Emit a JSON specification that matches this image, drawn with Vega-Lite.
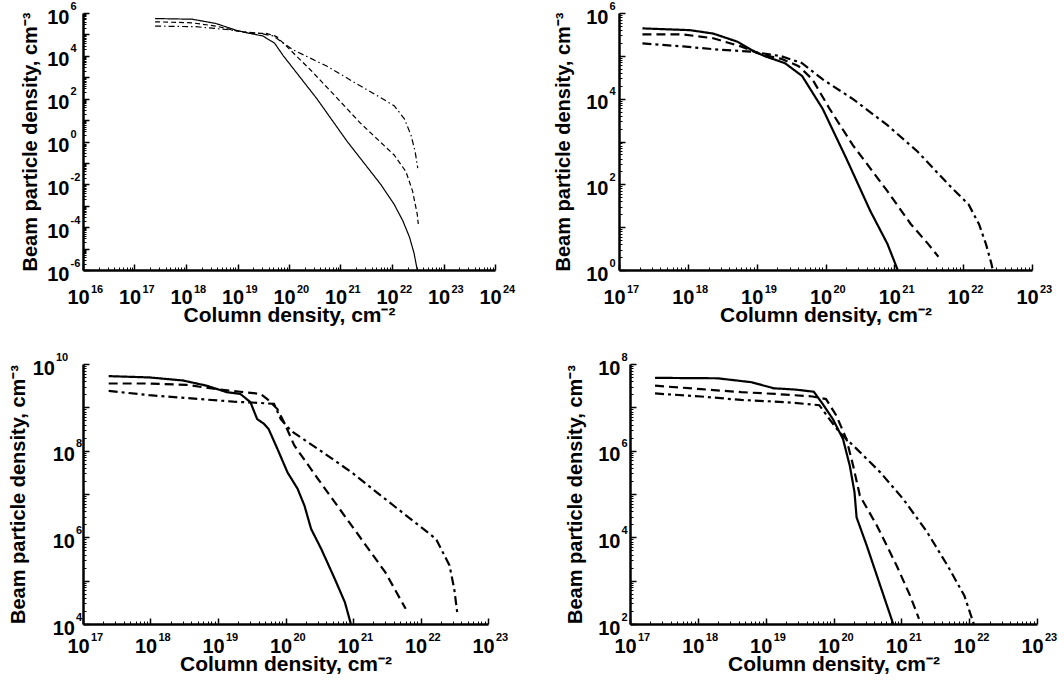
{
  "$schema": "https://vega.github.io/schema/vega-lite/v6.json",
  "background": "white",
  "padding": {"left": 8, "top": 0, "right": 0, "bottom": 0},
  "config": {
    "view": {"stroke": null},
    "font": "Liberation Sans",
    "axis": {
      "grid": false,
      "domainColor": "black",
      "domainWidth": 2.5,
      "labelFont": "Liberation Sans",
      "labelFontWeight": "bold",
      "labelFontSize": 20,
      "labelColor": "black",
      "labelFlush": false,
      "labelOverlap": false,
      "titleFont": "Liberation Sans",
      "titleFontWeight": "bold",
      "titleFontSize": 21,
      "titleColor": "black"
    },
    "axisX": {"titleFontSize": 21},
    "axisY": {"titleFontSize": 20}
  },
  "datasets": {
    "p1": [
      {"s": "solid", "x": 2.51e17, "y": 5.50e5}, {"s": "solid", "x": 1.32e18, "y": 5.13e5}, {"s": "solid", "x": 3.80e18, "y": 3.24e5}, {"s": "solid", "x": 9.33e18, "y": 1.58e5}, {"s": "solid", "x": 1.70e19, "y": 1.12e5}, {"s": "solid", "x": 3.09e19, "y": 8.51e4}, {"s": "solid", "x": 5.25e19, "y": 3.89e4}, {"s": "solid", "x": 7.76e19, "y": 1.0e4}, {"s": "solid", "x": 3.47e20, "y": 100}, {"s": "solid", "x": 1.35e21, "y": 1}, {"s": "solid", "x": 6.03e21, "y": 0.01}, {"s": "solid", "x": 1.10e22, "y": 1.17e-3}, {"s": "solid", "x": 1.62e22, "y": 2.0e-4}, {"s": "solid", "x": 2.19e22, "y": 3.39e-5}, {"s": "solid", "x": 2.69e22, "y": 5.89e-6}, {"s": "solid", "x": 3.09e22, "y": 1e-6},
      {"s": "dashed", "x": 2.51e17, "y": 3.89e5}, {"s": "dashed", "x": 1.32e18, "y": 3.47e5}, {"s": "dashed", "x": 3.80e18, "y": 2.45e5}, {"s": "dashed", "x": 1.10e19, "y": 1.35e5}, {"s": "dashed", "x": 2.0e19, "y": 1.12e5}, {"s": "dashed", "x": 3.63e19, "y": 1.12e5}, {"s": "dashed", "x": 5.75e19, "y": 7.94e4}, {"s": "dashed", "x": 1.05e20, "y": 1.91e4}, {"s": "dashed", "x": 2.57e20, "y": 2.29e3}, {"s": "dashed", "x": 7.0e20, "y": 180}, {"s": "dashed", "x": 2.45e21, "y": 7.08}, {"s": "dashed", "x": 1.10e22, "y": 0.234}, {"s": "dashed", "x": 1.86e22, "y": 0.0398}, {"s": "dashed", "x": 2.51e22, "y": 4.79e-3}, {"s": "dashed", "x": 3.09e22, "y": 4.07e-4}, {"s": "dashed", "x": 3.24e22, "y": 1.41e-4},
      {"s": "dashdot", "x": 2.51e17, "y": 2.45e5}, {"s": "dashdot", "x": 1.55e18, "y": 2.29e5}, {"s": "dashdot", "x": 6.03e18, "y": 1.70e5}, {"s": "dashdot", "x": 1.26e19, "y": 1.35e5}, {"s": "dashdot", "x": 2.69e19, "y": 1.12e5}, {"s": "dashdot", "x": 4.90e19, "y": 8.51e4}, {"s": "dashdot", "x": 1.20e20, "y": 1.91e4}, {"s": "dashdot", "x": 5.50e20, "y": 3.24e3}, {"s": "dashdot", "x": 2.45e21, "y": 389}, {"s": "dashdot", "x": 5.25e21, "y": 135}, {"s": "dashdot", "x": 1.10e22, "y": 46.8}, {"s": "dashdot", "x": 1.74e22, "y": 11.5}, {"s": "dashdot", "x": 2.34e22, "y": 1.95}, {"s": "dashdot", "x": 2.82e22, "y": 0.331}, {"s": "dashdot", "x": 3.16e22, "y": 0.0575}
    ],
    "p2": [
      {"s": "solid", "x": 2.19e17, "y": 4.37e5}, {"s": "solid", "x": 1.07e18, "y": 3.98e5}, {"s": "solid", "x": 2.34e18, "y": 3.31e5}, {"s": "solid", "x": 5.25e18, "y": 2.14e5}, {"s": "solid", "x": 8.32e18, "y": 1.38e5}, {"s": "solid", "x": 1.32e19, "y": 9.77e4}, {"s": "solid", "x": 2.57e19, "y": 6.76e4}, {"s": "solid", "x": 4.57e19, "y": 3.39e4}, {"s": "solid", "x": 9.12e19, "y": 5.75e3}, {"s": "solid", "x": 2.0e20, "y": 407}, {"s": "solid", "x": 4.47e20, "y": 24.0}, {"s": "solid", "x": 7.94e20, "y": 4.07}, {"s": "solid", "x": 1.12e21, "y": 1},
      {"s": "dashed", "x": 2.19e17, "y": 3.16e5}, {"s": "dashed", "x": 8.51e17, "y": 3.16e5}, {"s": "dashed", "x": 2.34e18, "y": 2.57e5}, {"s": "dashed", "x": 5.89e18, "y": 1.66e5}, {"s": "dashed", "x": 1.17e19, "y": 1.07e5}, {"s": "dashed", "x": 2.29e19, "y": 8.51e4}, {"s": "dashed", "x": 4.07e19, "y": 5.75e4}, {"s": "dashed", "x": 6.46e19, "y": 2.82e4}, {"s": "dashed", "x": 1.15e20, "y": 5.75e3}, {"s": "dashed", "x": 2.51e20, "y": 813}, {"s": "dashed", "x": 7.94e20, "y": 69.2}, {"s": "dashed", "x": 1.74e21, "y": 11.7}, {"s": "dashed", "x": 3.09e21, "y": 4.07}, {"s": "dashed", "x": 4.37e21, "y": 2.04},
      {"s": "dashdot", "x": 2.19e17, "y": 1.95e5}, {"s": "dashdot", "x": 8.51e17, "y": 1.66e5}, {"s": "dashdot", "x": 2.95e18, "y": 1.38e5}, {"s": "dashdot", "x": 8.32e18, "y": 1.26e5}, {"s": "dashdot", "x": 2.29e19, "y": 9.77e4}, {"s": "dashdot", "x": 4.57e19, "y": 6.76e4}, {"s": "dashdot", "x": 9.12e19, "y": 2.82e4}, {"s": "dashdot", "x": 2.51e20, "y": 9.77e3}, {"s": "dashdot", "x": 7.94e20, "y": 2.40e3}, {"s": "dashdot", "x": 2.19e21, "y": 575}, {"s": "dashdot", "x": 6.17e21, "y": 97.7}, {"s": "dashdot", "x": 1.20e22, "y": 33.9}, {"s": "dashdot", "x": 1.70e22, "y": 11.7}, {"s": "dashdot", "x": 2.14e22, "y": 4.07}, {"s": "dashdot", "x": 2.57e22, "y": 1.41}, {"s": "dashdot", "x": 2.69e22, "y": 1}
    ],
    "p3": [
      {"s": "solid", "x": 2.40e17, "y": 5.25e9}, {"s": "solid", "x": 9.55e17, "y": 4.90e9}, {"s": "solid", "x": 3.02e18, "y": 4.17e9}, {"s": "solid", "x": 6.76e18, "y": 3.16e9}, {"s": "solid", "x": 1.35e19, "y": 2.24e9}, {"s": "solid", "x": 2.14e19, "y": 2.04e9}, {"s": "solid", "x": 3.02e19, "y": 1.32e9}, {"s": "solid", "x": 3.80e19, "y": 5.37e8}, {"s": "solid", "x": 4.79e19, "y": 4.17e8}, {"s": "solid", "x": 5.62e19, "y": 3.16e8}, {"s": "solid", "x": 7.59e19, "y": 1.10e8}, {"s": "solid", "x": 1.07e20, "y": 3.16e7}, {"s": "solid", "x": 1.51e20, "y": 1.32e7}, {"s": "solid", "x": 1.91e20, "y": 5.37e6}, {"s": "solid", "x": 2.40e20, "y": 1.55e6}, {"s": "solid", "x": 3.39e20, "y": 5.37e5}, {"s": "solid", "x": 5.37e20, "y": 1.10e5}, {"s": "solid", "x": 7.59e20, "y": 3.16e4}, {"s": "solid", "x": 9.3e20, "y": 1e4},
      {"s": "dashed", "x": 2.40e17, "y": 3.55e9}, {"s": "dashed", "x": 9.55e17, "y": 3.55e9}, {"s": "dashed", "x": 3.39e18, "y": 3.31e9}, {"s": "dashed", "x": 9.55e18, "y": 2.63e9}, {"s": "dashed", "x": 2.14e19, "y": 2.29e9}, {"s": "dashed", "x": 4.27e19, "y": 2.04e9}, {"s": "dashed", "x": 5.37e19, "y": 1.55e9}, {"s": "dashed", "x": 7.59e19, "y": 9.12e8}, {"s": "dashed", "x": 9.55e19, "y": 4.47e8}, {"s": "dashed", "x": 1.35e20, "y": 1.32e8}, {"s": "dashed", "x": 3.02e20, "y": 2.24e7}, {"s": "dashed", "x": 9.55e20, "y": 1.86e6}, {"s": "dashed", "x": 3.02e21, "y": 1.55e5}, {"s": "dashed", "x": 6.03e21, "y": 2.24e4},
      {"s": "dashdot", "x": 2.40e17, "y": 2.40e9}, {"s": "dashdot", "x": 9.55e17, "y": 1.91e9}, {"s": "dashdot", "x": 5.37e18, "y": 1.55e9}, {"s": "dashdot", "x": 1.70e19, "y": 1.35e9}, {"s": "dashdot", "x": 4.27e19, "y": 1.26e9}, {"s": "dashdot", "x": 6.76e19, "y": 1.20e9}, {"s": "dashdot", "x": 8.51e19, "y": 5.37e8}, {"s": "dashdot", "x": 1.20e20, "y": 2.88e8}, {"s": "dashdot", "x": 3.02e20, "y": 1.10e8}, {"s": "dashdot", "x": 9.55e20, "y": 3.16e7}, {"s": "dashdot", "x": 3.02e21, "y": 7.59e6}, {"s": "dashdot", "x": 9.55e21, "y": 1.86e6}, {"s": "dashdot", "x": 1.70e22, "y": 9.12e5}, {"s": "dashdot", "x": 2.69e22, "y": 2.24e5}, {"s": "dashdot", "x": 3.16e22, "y": 6.46e4}, {"s": "dashdot", "x": 3.55e22, "y": 1.55e4}
    ],
    "p4": [
      {"s": "solid", "x": 2.34e17, "y": 4.79e7}, {"s": "solid", "x": 1.95e18, "y": 4.68e7}, {"s": "solid", "x": 6.17e18, "y": 3.80e7}, {"s": "solid", "x": 1.32e19, "y": 2.75e7}, {"s": "solid", "x": 2.75e19, "y": 2.57e7}, {"s": "solid", "x": 5.13e19, "y": 2.29e7}, {"s": "solid", "x": 6.92e19, "y": 1.20e7}, {"s": "solid", "x": 9.77e19, "y": 5.37e6}, {"s": "solid", "x": 1.38e20, "y": 1.86e6}, {"s": "solid", "x": 1.74e20, "y": 4.47e5}, {"s": "solid", "x": 2.04e20, "y": 1.10e5}, {"s": "solid", "x": 2.19e20, "y": 2.88e4}, {"s": "solid", "x": 3.09e20, "y": 6.46e3}, {"s": "solid", "x": 4.90e20, "y": 759}, {"s": "solid", "x": 7.59e20, "y": 100},
      {"s": "dashed", "x": 2.34e17, "y": 3.16e7}, {"s": "dashed", "x": 1.12e18, "y": 2.63e7}, {"s": "dashed", "x": 4.37e18, "y": 2.24e7}, {"s": "dashed", "x": 1.38e19, "y": 2.04e7}, {"s": "dashed", "x": 4.90e19, "y": 1.78e7}, {"s": "dashed", "x": 7.76e19, "y": 1.55e7}, {"s": "dashed", "x": 1.10e20, "y": 6.46e6}, {"s": "dashed", "x": 1.55e20, "y": 1.86e6}, {"s": "dashed", "x": 1.95e20, "y": 4.47e5}, {"s": "dashed", "x": 2.45e20, "y": 9.12e4}, {"s": "dashed", "x": 4.37e20, "y": 1.86e4}, {"s": "dashed", "x": 8.51e20, "y": 2.24e3}, {"s": "dashed", "x": 1.35e21, "y": 447}, {"s": "dashed", "x": 1.82e21, "y": 132},
      {"s": "dashdot", "x": 2.34e17, "y": 2.09e7}, {"s": "dashdot", "x": 1.12e18, "y": 1.78e7}, {"s": "dashdot", "x": 4.37e18, "y": 1.48e7}, {"s": "dashdot", "x": 1.95e19, "y": 1.32e7}, {"s": "dashdot", "x": 6.17e19, "y": 1.12e7}, {"s": "dashdot", "x": 8.71e19, "y": 5.37e6}, {"s": "dashdot", "x": 1.23e20, "y": 2.63e6}, {"s": "dashdot", "x": 2.19e20, "y": 1.10e6}, {"s": "dashdot", "x": 4.90e20, "y": 3.16e5}, {"s": "dashdot", "x": 1.07e21, "y": 7.59e4}, {"s": "dashdot", "x": 2.40e21, "y": 1.32e4}, {"s": "dashdot", "x": 4.79e21, "y": 2.24e3}, {"s": "dashdot", "x": 8.51e21, "y": 447}, {"s": "dashdot", "x": 1.17e22, "y": 100}
    ]
  },
  "resolve": {"scale": {"strokeDash": "independent"}},
  "spacing": 25,
  "vconcat": [
    {
      "resolve": {"scale": {"strokeDash": "independent"}},
      "spacing": 38,
      "align": "none",
      "hconcat": [
        {
          "width": 412, "height": 257,
          "data": {"name": "p1"},
          "layer": [
            {
              "mark": {"type": "line", "color": "black", "strokeWidth": 1.2, "clip": true},
              "encoding": {
                "x": {"field": "x", "type": "quantitative", "scale": {"type": "log", "domain": [1e16, 1e24], "nice": false},
                  "axis": {"orient": "bottom", "title": "Column density, cm⁻²", "ticks": false, "values": [1e16, 1e17, 1e18, 1e19, 1e20, 1e21, 1e22, 1e23, 1e24], "labelExpr": "'10'", "labelPadding": 17.5, "labelOffset": -5, "titlePadding": -3}},
                "y": {"field": "y", "type": "quantitative", "scale": {"type": "log", "domain": [1e-6, 1e6], "nice": false},
                  "axis": {"orient": "left", "title": "Beam particle density, cm⁻³", "ticks": false, "values": [1e-6, 1e-4, 0.01, 1, 100, 1e4, 1e6], "labelExpr": "'10'", "labelPadding": 14, "labelOffset": 4, "titlePadding": 6}},
                "strokeDash": {"field": "s", "type": "nominal", "legend": null, "scale": {"domain": ["solid", "dashed", "dashdot"], "range": [[1, 0], [5, 3], [6, 3, 1.5, 3]]}}
              }
            },
            {
              "mark": {"type": "point", "opacity": 0},
              "encoding": {
                "x": {"field": "x", "type": "quantitative",
                  "axis": {"orient": "bottom", "title": null, "domain": false, "ticks": true, "tickColor": "black", "tickOpacity": 1, "tickWidth": 1.5, "zindex": 2, "offset": -6, "tickSize": 6, "labelFontSize": 11, "labelAlign": "left", "labelOffset": 7.5, "labelPadding": 13,
                    "labelExpr": "'' + round(log(datum.value)/LN10)",
                    "values": [1e16, 1e17, 1e18, 1e19, 1e20, 1e21, 1e22, 1e23, 1e24]}},
                "y": {"field": "y", "type": "quantitative",
                  "axis": {"orient": "left", "title": null, "domain": false, "ticks": true, "tickColor": "black", "tickOpacity": 1, "tickWidth": 1.5, "zindex": 2, "offset": -6, "tickSize": 6, "labelFontSize": 11, "labelAlign": "left", "labelOffset": -7, "labelPadding": 13,
                    "labelExpr": "round(log(datum.value)/LN10) % 2 == 0 ? '' + round(log(datum.value)/LN10) : ''",
                    "values": [1e-6, 1e-5, 1e-4, 1e-3, 0.01, 0.1, 1, 10, 100, 1000, 1e4, 1e5, 1e6]}}
              }
            },
            {
              "mark": {"type": "point", "opacity": 0},
              "encoding": {
                "x": {"field": "x", "type": "quantitative",
                  "axis": {"orient": "bottom", "title": null, "domain": false, "labels": false, "ticks": true, "tickColor": "black", "tickOpacity": 1, "zindex": 2, "offset": -3, "tickSize": 3, "tickWidth": 1,
                    "values": [2e16,3e16,4e16,5e16,6e16,7e16,8e16,9e16,2e17,3e17,4e17,5e17,6e17,7e17,8e17,9e17,2e18,3e18,4e18,5e18,6e18,7e18,8e18,9e18,2e19,3e19,4e19,5e19,6e19,7e19,8e19,9e19,2e20,3e20,4e20,5e20,6e20,7e20,8e20,9e20,2e21,3e21,4e21,5e21,6e21,7e21,8e21,9e21,2e22,3e22,4e22,5e22,6e22,7e22,8e22,9e22,2e23,3e23,4e23,5e23,6e23,7e23,8e23,9e23]}},
                "y": {"field": "y", "type": "quantitative",
                  "axis": {"orient": "left", "title": null, "domain": false, "labels": false, "ticks": true, "tickColor": "black", "tickOpacity": 1, "zindex": 2, "offset": -3, "tickSize": 3, "tickWidth": 1,
                    "values": [2e-6,3e-6,4e-6,5e-6,6e-6,7e-6,8e-6,9e-6,2e-5,3e-5,4e-5,5e-5,6e-5,7e-5,8e-5,9e-5,2e-4,3e-4,4e-4,5e-4,6e-4,7e-4,8e-4,9e-4,2e-3,3e-3,4e-3,5e-3,6e-3,7e-3,8e-3,9e-3,0.02,0.03,0.04,0.05,0.06,0.07,0.08,0.09,0.2,0.3,0.4,0.5,0.6,0.7,0.8,0.9,2,3,4,5,6,7,8,9,20,30,40,50,60,70,80,90,200,300,400,500,600,700,800,900,2000,3000,4000,5000,6000,7000,8000,9000,2e4,3e4,4e4,5e4,6e4,7e4,8e4,9e4,2e5,3e5,4e5,5e5,6e5,7e5,8e5,9e5]}}
              }
            }
          ],
          "resolve": {"axis": {"x": "independent", "y": "independent"}}
        },
        {
          "width": 413, "height": 257,
          "data": {"name": "p2"},
          "layer": [
            {
              "mark": {"type": "line", "color": "black", "strokeWidth": 2.2, "clip": true},
              "encoding": {
                "x": {"field": "x", "type": "quantitative", "scale": {"type": "log", "domain": [1e17, 1e23], "nice": false},
                  "axis": {"orient": "bottom", "title": "Column density, cm⁻²", "ticks": false, "values": [1e17, 1e18, 1e19, 1e20, 1e21, 1e22, 1e23], "labelExpr": "'10'", "labelPadding": 17.5, "labelOffset": -5, "titlePadding": -3}},
                "y": {"field": "y", "type": "quantitative", "scale": {"type": "log", "domain": [1, 1e6], "nice": false},
                  "axis": {"orient": "left", "title": "Beam particle density, cm⁻³", "ticks": false, "values": [1, 100, 1e4, 1e6], "labelExpr": "'10'", "labelPadding": 11, "labelOffset": 4, "titlePadding": 12}},
                "strokeDash": {"field": "s", "type": "nominal", "legend": null, "scale": {"domain": ["solid", "dashed", "dashdot"], "range": [[1, 0], [9, 5], [9, 4, 3, 4]]}}
              }
            },
            {
              "mark": {"type": "point", "opacity": 0},
              "encoding": {
                "x": {"field": "x", "type": "quantitative",
                  "axis": {"orient": "bottom", "title": null, "domain": false, "ticks": true, "tickColor": "black", "tickOpacity": 1, "tickWidth": 1.5, "zindex": 2, "offset": -6, "tickSize": 6, "labelFontSize": 11, "labelAlign": "left", "labelOffset": 7.5, "labelPadding": 13,
                    "labelExpr": "'' + round(log(datum.value)/LN10)",
                    "values": [1e17, 1e18, 1e19, 1e20, 1e21, 1e22, 1e23]}},
                "y": {"field": "y", "type": "quantitative",
                  "axis": {"orient": "left", "title": null, "domain": false, "ticks": true, "tickColor": "black", "tickOpacity": 1, "tickWidth": 1.5, "zindex": 2, "offset": -6, "tickSize": 6, "labelFontSize": 11, "labelAlign": "left", "labelOffset": -7, "labelPadding": 10,
                    "labelExpr": "round(log(datum.value)/LN10) % 2 == 0 ? '' + round(log(datum.value)/LN10) : ''",
                    "values": [1, 10, 100, 1000, 1e4, 1e5, 1e6]}}
              }
            },
            {
              "mark": {"type": "point", "opacity": 0},
              "encoding": {
                "x": {"field": "x", "type": "quantitative",
                  "axis": {"orient": "bottom", "title": null, "domain": false, "labels": false, "ticks": true, "tickColor": "black", "tickOpacity": 1, "zindex": 2, "offset": -3, "tickSize": 3, "tickWidth": 1,
                    "values": [2e17,3e17,4e17,5e17,6e17,7e17,8e17,9e17,2e18,3e18,4e18,5e18,6e18,7e18,8e18,9e18,2e19,3e19,4e19,5e19,6e19,7e19,8e19,9e19,2e20,3e20,4e20,5e20,6e20,7e20,8e20,9e20,2e21,3e21,4e21,5e21,6e21,7e21,8e21,9e21,2e22,3e22,4e22,5e22,6e22,7e22,8e22,9e22]}},
                "y": {"field": "y", "type": "quantitative",
                  "axis": {"orient": "left", "title": null, "domain": false, "labels": false, "ticks": true, "tickColor": "black", "tickOpacity": 1, "zindex": 2, "offset": -3, "tickSize": 3, "tickWidth": 1,
                    "values": [2,3,4,5,6,7,8,9,20,30,40,50,60,70,80,90,200,300,400,500,600,700,800,900,2000,3000,4000,5000,6000,7000,8000,9000,2e4,3e4,4e4,5e4,6e4,7e4,8e4,9e4,2e5,3e5,4e5,5e5,6e5,7e5,8e5,9e5]}}
              }
            }
          ],
          "resolve": {"axis": {"x": "independent", "y": "independent"}}
        }
      ]
    },
    {
      "resolve": {"scale": {"strokeDash": "independent"}},
      "spacing": 57,
      "align": "none",
      "hconcat": [
        {
          "width": 405, "height": 260,
          "data": {"name": "p3"},
          "layer": [
            {
              "mark": {"type": "line", "color": "black", "strokeWidth": 2.2, "clip": true},
              "encoding": {
                "x": {"field": "x", "type": "quantitative", "scale": {"type": "log", "domain": [1e17, 1e23], "nice": false},
                  "axis": {"orient": "bottom", "title": "Column density, cm⁻²", "ticks": false, "values": [1e17, 1e18, 1e19, 1e20, 1e21, 1e22, 1e23], "labelExpr": "'10'", "labelPadding": 12, "labelOffset": -5, "titlePadding": -3}},
                "y": {"field": "y", "type": "quantitative", "scale": {"type": "log", "domain": [1e4, 1e10], "nice": false},
                  "axis": {"orient": "left", "title": "Beam particle density, cm⁻³", "ticks": false, "values": [1e4, 1e6, 1e8, 1e10], "labelExpr": "'10'", "labelPadding": {"condition": {"test": "datum.value > 5e9", "value": 28.5}, "value": 8.5}, "labelOffset": 4, "titlePadding": 4}},
                "strokeDash": {"field": "s", "type": "nominal", "legend": null, "scale": {"domain": ["solid", "dashed", "dashdot"], "range": [[1, 0], [9, 5], [9, 4, 3, 4]]}}
              }
            },
            {
              "mark": {"type": "point", "opacity": 0},
              "encoding": {
                "x": {"field": "x", "type": "quantitative",
                  "axis": {"orient": "bottom", "title": null, "domain": false, "ticks": true, "tickColor": "black", "tickOpacity": 1, "tickWidth": 1.5, "zindex": 2, "offset": -6, "tickSize": 6, "labelFontSize": 11, "labelAlign": "left", "labelOffset": 7.5, "labelPadding": 7.5,
                    "labelExpr": "'' + round(log(datum.value)/LN10)",
                    "values": [1e17, 1e18, 1e19, 1e20, 1e21, 1e22, 1e23]}},
                "y": {"field": "y", "type": "quantitative",
                  "axis": {"orient": "left", "title": null, "domain": false, "ticks": true, "tickColor": "black", "tickOpacity": 1, "tickWidth": 1.5, "zindex": 2, "offset": -6, "tickSize": 6, "labelFontSize": 11, "labelAlign": "left", "labelOffset": -7, "labelPadding": {"condition": {"test": "datum.value > 5e9", "value": 27.5}, "value": 7.5},
                    "labelExpr": "round(log(datum.value)/LN10) % 2 == 0 ? '' + round(log(datum.value)/LN10) : ''",
                    "values": [1e4, 1e5, 1e6, 1e7, 1e8, 1e9, 1e10]}}
              }
            },
            {
              "mark": {"type": "point", "opacity": 0},
              "encoding": {
                "x": {"field": "x", "type": "quantitative",
                  "axis": {"orient": "bottom", "title": null, "domain": false, "labels": false, "ticks": true, "tickColor": "black", "tickOpacity": 1, "zindex": 2, "offset": -3, "tickSize": 3, "tickWidth": 1,
                    "values": [2e17,3e17,4e17,5e17,6e17,7e17,8e17,9e17,2e18,3e18,4e18,5e18,6e18,7e18,8e18,9e18,2e19,3e19,4e19,5e19,6e19,7e19,8e19,9e19,2e20,3e20,4e20,5e20,6e20,7e20,8e20,9e20,2e21,3e21,4e21,5e21,6e21,7e21,8e21,9e21,2e22,3e22,4e22,5e22,6e22,7e22,8e22,9e22]}},
                "y": {"field": "y", "type": "quantitative",
                  "axis": {"orient": "left", "title": null, "domain": false, "labels": false, "ticks": true, "tickColor": "black", "tickOpacity": 1, "zindex": 2, "offset": -3, "tickSize": 3, "tickWidth": 1,
                    "values": [2e4,3e4,4e4,5e4,6e4,7e4,8e4,9e4,2e5,3e5,4e5,5e5,6e5,7e5,8e5,9e5,2e6,3e6,4e6,5e6,6e6,7e6,8e6,9e6,2e7,3e7,4e7,5e7,6e7,7e7,8e7,9e7,2e8,3e8,4e8,5e8,6e8,7e8,8e8,9e8,2e9,3e9,4e9,5e9,6e9,7e9,8e9,9e9]}}
              }
            }
          ],
          "resolve": {"axis": {"x": "independent", "y": "independent"}}
        },
        {
          "width": 407, "height": 260,
          "data": {"name": "p4"},
          "layer": [
            {
              "mark": {"type": "line", "color": "black", "strokeWidth": 2.2, "clip": true},
              "encoding": {
                "x": {"field": "x", "type": "quantitative", "scale": {"type": "log", "domain": [1e17, 1e23], "nice": false},
                  "axis": {"orient": "bottom", "title": "Column density, cm⁻²", "ticks": false, "values": [1e17, 1e18, 1e19, 1e20, 1e21, 1e22, 1e23], "labelExpr": "'10'", "labelPadding": 12, "labelOffset": -5, "titlePadding": -3}},
                "y": {"field": "y", "type": "quantitative", "scale": {"type": "log", "domain": [100, 1e8], "nice": false},
                  "axis": {"orient": "left", "title": "Beam particle density, cm⁻³", "ticks": false, "values": [100, 1e4, 1e6, 1e8], "labelExpr": "'10'", "labelPadding": 10, "labelOffset": 4, "titlePadding": 12}},
                "strokeDash": {"field": "s", "type": "nominal", "legend": null, "scale": {"domain": ["solid", "dashed", "dashdot"], "range": [[1, 0], [9, 5], [9, 4, 3, 4]]}}
              }
            },
            {
              "mark": {"type": "point", "opacity": 0},
              "encoding": {
                "x": {"field": "x", "type": "quantitative",
                  "axis": {"orient": "bottom", "title": null, "domain": false, "ticks": true, "tickColor": "black", "tickOpacity": 1, "tickWidth": 1.5, "zindex": 2, "offset": -6, "tickSize": 6, "labelFontSize": 11, "labelAlign": "left", "labelOffset": 7.5, "labelPadding": 7.5,
                    "labelExpr": "'' + round(log(datum.value)/LN10)",
                    "values": [1e17, 1e18, 1e19, 1e20, 1e21, 1e22, 1e23]}},
                "y": {"field": "y", "type": "quantitative",
                  "axis": {"orient": "left", "title": null, "domain": false, "ticks": true, "tickColor": "black", "tickOpacity": 1, "tickWidth": 1.5, "zindex": 2, "offset": -6, "tickSize": 6, "labelFontSize": 11, "labelAlign": "left", "labelOffset": -7, "labelPadding": 9,
                    "labelExpr": "round(log(datum.value)/LN10) % 2 == 0 ? '' + round(log(datum.value)/LN10) : ''",
                    "values": [100, 1000, 1e4, 1e5, 1e6, 1e7, 1e8]}}
              }
            },
            {
              "mark": {"type": "point", "opacity": 0},
              "encoding": {
                "x": {"field": "x", "type": "quantitative",
                  "axis": {"orient": "bottom", "title": null, "domain": false, "labels": false, "ticks": true, "tickColor": "black", "tickOpacity": 1, "zindex": 2, "offset": -3, "tickSize": 3, "tickWidth": 1,
                    "values": [2e17,3e17,4e17,5e17,6e17,7e17,8e17,9e17,2e18,3e18,4e18,5e18,6e18,7e18,8e18,9e18,2e19,3e19,4e19,5e19,6e19,7e19,8e19,9e19,2e20,3e20,4e20,5e20,6e20,7e20,8e20,9e20,2e21,3e21,4e21,5e21,6e21,7e21,8e21,9e21,2e22,3e22,4e22,5e22,6e22,7e22,8e22,9e22]}},
                "y": {"field": "y", "type": "quantitative",
                  "axis": {"orient": "left", "title": null, "domain": false, "labels": false, "ticks": true, "tickColor": "black", "tickOpacity": 1, "zindex": 2, "offset": -3, "tickSize": 3, "tickWidth": 1,
                    "values": [200,300,400,500,600,700,800,900,2000,3000,4000,5000,6000,7000,8000,9000,2e4,3e4,4e4,5e4,6e4,7e4,8e4,9e4,2e5,3e5,4e5,5e5,6e5,7e5,8e5,9e5,2e6,3e6,4e6,5e6,6e6,7e6,8e6,9e6,2e7,3e7,4e7,5e7,6e7,7e7,8e7,9e7]}}
              }
            }
          ],
          "resolve": {"axis": {"x": "independent", "y": "independent"}}
        }
      ]
    }
  ]
}
